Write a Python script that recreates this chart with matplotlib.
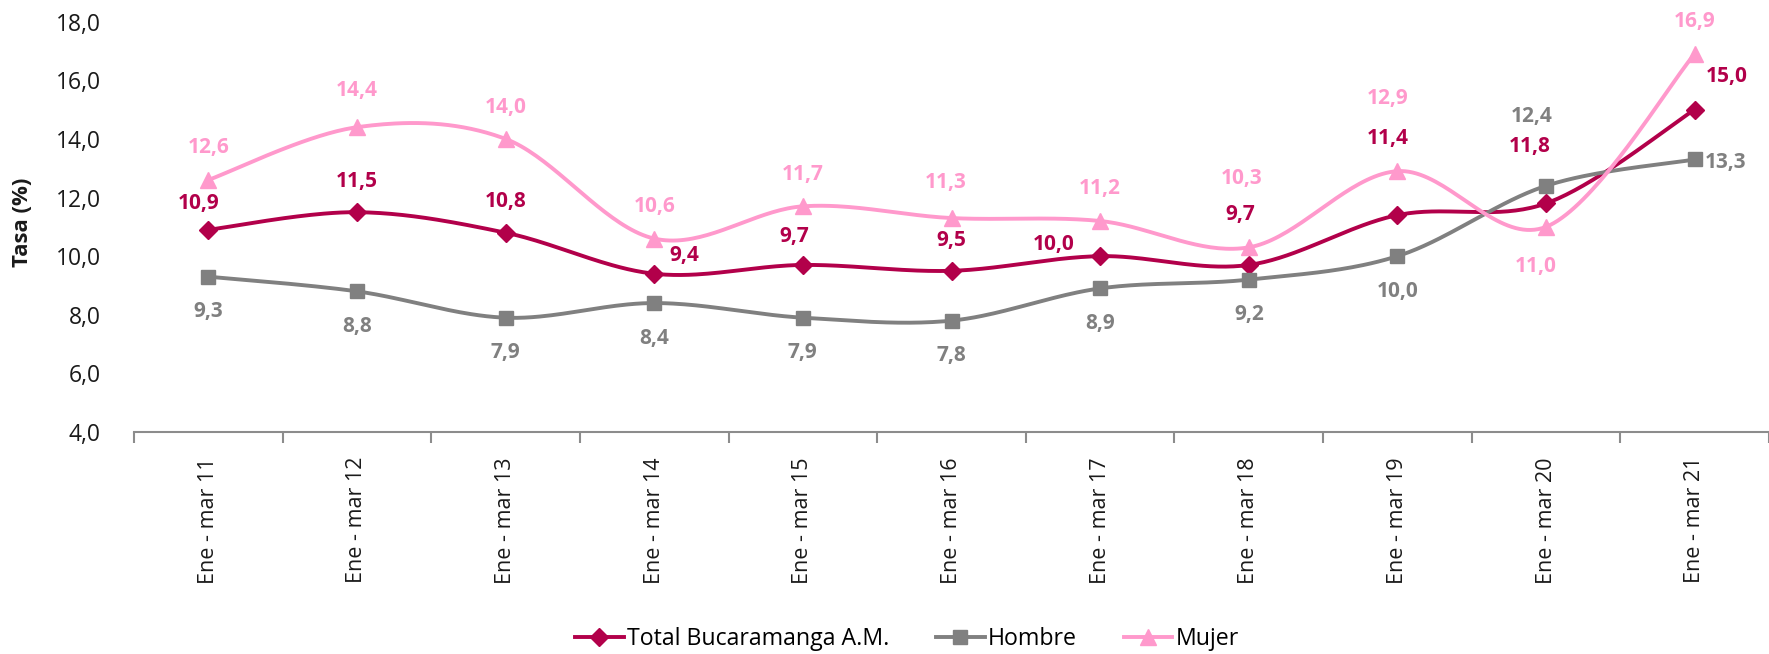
import numpy as np
import matplotlib
matplotlib.use("Agg")
import matplotlib.pyplot as plt
from matplotlib.lines import Line2D

plt.rcParams['font.family'] = ['Open Sans', 'DejaVu Sans']

categories = ["Ene - mar 11", "Ene - mar 12", "Ene - mar 13", "Ene - mar 14", "Ene - mar 15",
              "Ene - mar 16", "Ene - mar 17", "Ene - mar 18", "Ene - mar 19", "Ene - mar 20",
              "Ene - mar 21"]
total = [10.9, 11.5, 10.8, 9.4, 9.7, 9.5, 10.0, 9.7, 11.4, 11.8, 15.0]
hombre = [9.3, 8.8, 7.9, 8.4, 7.9, 7.8, 8.9, 9.2, 10.0, 12.4, 13.3]
mujer = [12.6, 14.4, 14.0, 10.6, 11.7, 11.3, 11.2, 10.3, 12.9, 11.0, 16.9]
yticks = [4, 6, 8, 10, 12, 14, 16, 18]

c_total = '#B2004A'
c_hombre = '#808080'
c_mujer = '#FF99CC'

# label offsets in pixels (dx, dy) -- dy positive is up
off_total = [(-10, 26), (0, 31), (0, 31), (30, 18), (-9, 28), (0, 30), (-46, 12), (-9, 50),
             (-10, 77), (-16, 57), (32, 33)]
off_hombre = [(0, -35)] * 9 + [(-14, 69), (10, -3)]
off_mujer = [(0, 32), (0, 37), (0, 31), (0, 32), (0, 32), (-6, 36), (0, 32), (-7, 69),
             (-10, 73), (-10, -40), (0, 32)]


def smooth(xs, ys, n=40):
    xs = np.asarray(xs, float)
    ys = np.asarray(ys, float)
    P = np.column_stack([xs, ys])
    out = []
    for i in range(len(P) - 1):
        p0 = P[i - 1] if i > 0 else P[i]
        p1 = P[i]
        p2 = P[i + 1]
        p3 = P[i + 2] if i + 2 < len(P) else P[i + 1]
        c1 = p1 + (p2 - p0) / 6.0
        c2 = p2 - (p3 - p1) / 6.0
        t = np.linspace(0, 1, n)[:, None]
        seg = ((1 - t) ** 3) * p1 + 3 * ((1 - t) ** 2) * t * c1 + 3 * (1 - t) * t ** 2 * c2 + t ** 3 * p2
        out.append(seg if i == 0 else seg[1:])
    s = np.vstack(out)
    return s[:, 0], s[:, 1]


fig = plt.figure(figsize=(17.69, 6.54), dpi=100)
ax = fig.add_axes([134 / 1769, 1 - 432 / 654, 1 - 134 / 1769, (432 - 21.7) / 654])

x = np.arange(len(categories))
series = [
    (total, c_total, 'D', 9, off_total, 'Total Bucaramanga A.M.'),
    (hombre, c_hombre, 's', 10.5, off_hombre, 'Hombre'),
    (mujer, c_mujer, '^', 11.5, off_mujer, 'Mujer'),
]
handles = []
for vals, col, mk, ms, offs, name in series:
    sx, sy = smooth(x, vals)
    ax.plot(sx, sy, color=col, lw=2.8, solid_capstyle='round', zorder=3)
    ax.plot(x, vals, linestyle='none', marker=mk, ms=ms, color=col, mec=col, zorder=4)
    for xi, v, (dx, dy) in zip(x, vals, offs):
        ha = 'left' if (name == 'Hombre' and xi == len(x) - 1) else 'center'
        ax.annotate(f"{v:.1f}".replace('.', ','), (xi, v), xytext=(dx, dy),
                    textcoords='offset pixels', ha=ha, va='center',
                    fontsize=15, fontweight='bold', color=col, zorder=5)
    handles.append(Line2D([0], [0], color=col, lw=2.8, marker=mk, ms=ms, mec=col, label=name))

ax.set_xlim(-0.5, 10.5)
ax.set_ylim(4, 18)
ax.set_yticks(yticks)
ax.set_yticklabels([f"{v:.1f}".replace('.', ',') for v in yticks], fontsize=16.5, color='#1a1a1a')
ax.tick_params(axis='y', length=0, pad=24)
ax.set_xticks(x)
ax.set_xticklabels(categories, rotation=90, fontsize=15.5, color='#1a1a1a')
ax.tick_params(axis='x', which='major', length=0, pad=18)
ax.set_xticks(np.arange(-0.5, 11, 1), minor=True)
ax.tick_params(axis='x', which='minor', length=8, width=1.5, color='#8c8c8c', direction='out')
for s in ['top', 'right', 'left']:
    ax.spines[s].set_visible(False)
ax.spines['bottom'].set_color('#8c8c8c')
ax.spines['bottom'].set_linewidth(1.5)

fig.text(23 / 1769, 1 - 222 / 654, 'Tasa (%)', rotation=90, ha='center', va='center',
         fontsize=16, fontweight='bold', color='#1a1a1a')

fig.legend(handles=handles, loc='center', bbox_to_anchor=(907 / 1769, 1 - 639 / 654), ncol=3,
           frameon=False, fontsize=16.7, handlelength=2.1, handletextpad=0.15, columnspacing=2.0)

fig.savefig('out.png', dpi=100)
